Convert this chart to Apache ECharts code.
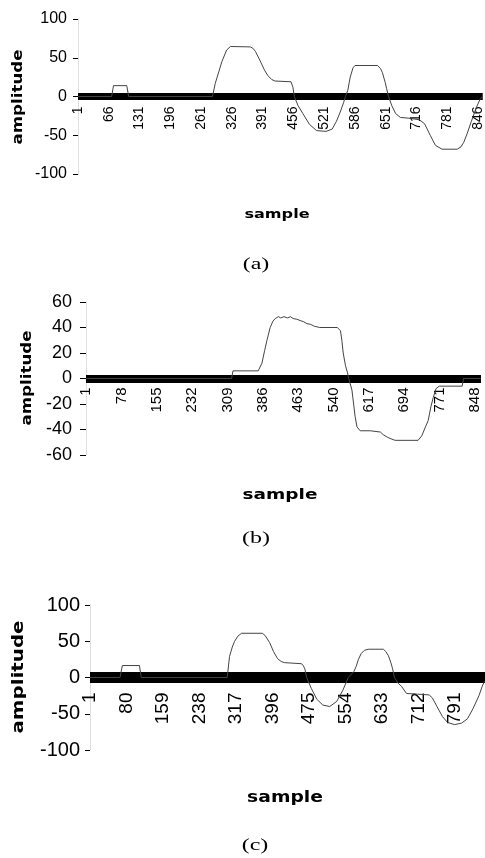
<!DOCTYPE html>
<html>
<head>
<meta charset="utf-8">
<script src="https://cdn.jsdelivr.net/npm/echarts@6/dist/echarts.min.js"></script>
<style>
html,body{margin:0;padding:0;background:#fff;}
#c{width:485px;height:858px;}
</style>
</head>
<body>
<div id="c"></div>
<script>
// ---- tick labels (sample numbers shown on each x axis) ----
const aTicks = ['1','66','131','196','261','326','391','456','521','586','651','716','781','846'];
const bTicks = ['1','78','155','232','309','386','463','540','617','694','771','848'];
const cTicks = ['1','80','159','238','317','396','475','554','633','712','791'];
const aStep = 65, bStep = 77, cStep = 79;

// ---- panel (a): sample index / amplitude ----
const aSamples = [1,72,76,104,108,285,291,305,315,323,365,371,376,385,395,402,410,417,451,455,458,466,476,490,505,525,538,547,555,562,566,571,576,582,586,634,640,644,650,653,657,664,672,682,700,722,733,745,756,770,802,810,816,823,832,842,850,855];
const aAmps    = [0,0,14,14,0,0,17,45,60,64.5,64,62,58,47,34,27,22,20,19,12,0,-12,-22,-36,-44,-45,-42,-32,-20,-8,0,8,25,37,40,40,36,31,18,10,0,-12,-22,-27,-28,-30,-35,-50,-63,-68,-68,-65,-59,-48,-32,-15,-4,0];

// ---- panel (b) ----
const bSamples = [1,318,321,376,384,390,395,402,408,413,420,425,432,440,446,452,460,467,475,482,490,498,510,548,555,558,561,566,570,573,580,587,591,598,620,642,648,657,663,674,724,732,740,746,752,757,763,770,783,820,823,860];
const bAmps    = [0,0,6,6,12,22,30,40,45,47,48.5,47.5,48.5,47.5,48.5,47,46.5,45.5,44.5,43,42.5,41,40,40,37.5,30,20,10,5,0,-9,-30,-38,-41,-41,-42,-44,-46,-47,-48.5,-48.5,-45,-38,-33,-22,-15,-8,-6,-6,-6,0,0];

// ---- panel (c) ----
const cSamples = [1,66,71,108,112,298,303,309,314,321,329,374,380,390,398,407,415,422,459,463,466,470,480,492,505,520,535,548,560,572,577,582,588,595,603,636,641,647,652,656,660,668,675,686,710,735,742,752,764,775,790,805,818,830,843,850,855];
const cAmps    = [0,0,16.5,16.5,0,0,29,42,50,57,61,61,58,48,36,26,22,20.5,19,16,12,0,-15,-30,-38,-40,-33,-18,0,8,15,25,33,37.5,39,39,36,30,21,12,0,-8,-12,-22,-23,-24,-28,-40,-54,-62,-65,-63,-57,-43,-25,-12,-5];

function pts(s, a) { return s.map((v, i) => [v - 1, a[i]]); }

const FONT_NUM = '"Liberation Sans", Arial, sans-serif';

// x axis placed on the zero line of a symmetric y range by shifting it up half the grid height
function xAx(grid, max, step, ticks, fs, margin, bandW, gridH) {
  return {
    gridIndex: grid, type: 'value', min: 0, max: max, interval: step,
    position: 'bottom', offset: -gridH / 2,
    axisLine: { onZero: false, lineStyle: { color: '#000', width: bandW, cap: 'butt' } },
    axisTick: { show: false },
    splitLine: { show: false },
    axisLabel: {
      rotate: 90, margin: margin, fontSize: fs, color: '#000', fontFamily: FONT_NUM,
      showMaxLabel: false,
      formatter: function (v) {
        if (v % step !== 0) return '';
        const t = ticks[v / step];
        return t === undefined ? '' : t;
      }
    }
  };
}
function yAx(grid, min, max, step, fs, margin, tickLen) {
  return {
    gridIndex: grid, type: 'value', min: min, max: max, interval: step,
    axisLine: { show: true, lineStyle: { color: '#d8d8d8', width: 1, type: 'dotted' } },
    axisTick: { show: true, length: tickLen, lineStyle: { color: '#000', width: 1 } },
    splitLine: { show: false },
    axisLabel: { fontSize: fs, color: '#000', margin: margin, fontFamily: FONT_NUM }
  };
}
function ser(i, data) {
  return {
    type: 'line', xAxisIndex: i, yAxisIndex: i, data: data,
    showSymbol: false, smooth: false, silent: true, z: 3,
    lineStyle: { color: '#444', width: 1 }
  };
}
function label(text, x, y, font, sx, rot) {
  return {
    type: 'text', x: x, y: y, rotation: rot || 0, scaleX: sx, scaleY: 1,
    style: { text: text, font: font, fill: '#000', textAlign: 'center', textVerticalAlign: 'middle' }
  };
}

const gridsH = [155, 153, 145];
const chart = echarts.init(document.getElementById('c'), null, { renderer: 'canvas' });
chart.setOption({
  animation: false,
  backgroundColor: '#fff',
  grid: [
    { left: 78, right: 0, top: 19, height: gridsH[0] },
    { left: 86, right: 4, top: 302, height: gridsH[1] },
    { left: 90, right: 0, top: 605, height: gridsH[2] }
  ],
  xAxis: [
    xAx(0, 855, aStep, aTicks, 14, 10, 7, gridsH[0]),
    xAx(1, 860, bStep, bTicks, 15, 9, 8, gridsH[1]),
    xAx(2, 855, cStep, cTicks, 19, 15, 11, gridsH[2])
  ],
  yAxis: [
    yAx(0, -100, 100, 50, 16, 11, 5),
    yAx(1, -60, 60, 20, 18, 14, 6),
    yAx(2, -100, 100, 50, 20, 10, 5)
  ],
  series: [
    ser(0, pts(aSamples, aAmps)),
    ser(1, pts(bSamples, bAmps)),
    ser(2, pts(cSamples, cAmps))
  ],
  graphic: [
    label('amplitude', 18, 97, 'bold 14px "DejaVu Sans"', 1.19, Math.PI / 2),
    label('amplitude', 27, 378, 'bold 14px "DejaVu Sans"', 1.19, Math.PI / 2),
    label('amplitude', 19, 677, 'bold 16px "DejaVu Sans"', 1.24, Math.PI / 2),
    label('sample', 277, 215, 'bold 12px "DejaVu Sans"', 1.34),
    label('sample', 280, 495, 'bold 14px "DejaVu Sans"', 1.32),
    label('sample', 285, 798, 'bold 16px "DejaVu Sans"', 1.17),
    label('(a)', 256, 265, '16px "Liberation Serif"', 1.5),
    label('(b)', 256, 539, '16px "Liberation Serif"', 1.5),
    label('(c)', 255, 846, '16px "Liberation Serif"', 1.5)
  ]
});
</script>
</body>
</html>
